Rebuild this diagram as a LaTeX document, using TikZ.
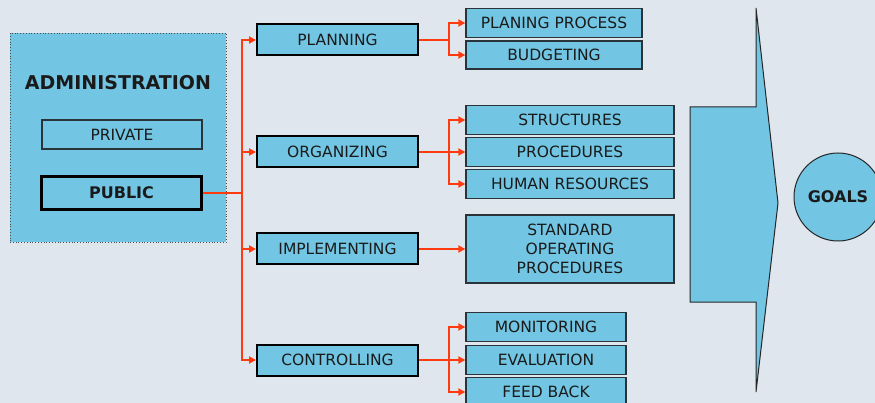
\documentclass[tikz,border=0pt]{standalone}
\usepackage{fontspec}
\setmainfont{DejaVu Sans}
\usetikzlibrary{arrows.meta}
\definecolor{boxblue}{HTML}{72C6E4}
\definecolor{bgc}{HTML}{E0E6ED}
\definecolor{redl}{HTML}{FF3A0F}
\definecolor{txt}{HTML}{1A1A1A}
\definecolor{subedge}{HTML}{2A3338}
\begin{document}
\begin{tikzpicture}[x=1pt,y=-1pt,
  lbl/.style={font=\fontsize{15.5}{19}\selectfont, text=txt, align=center},
  mainbox/.style={lbl, draw=black, line width=2pt, fill=boxblue, inner sep=0pt},
  subbox/.style={lbl, draw=subedge, line width=1.3pt, fill=boxblue, inner sep=0pt},
  conn/.style={draw=redl, line width=1.8pt},
  arr/.style={conn, -{Triangle[length=7pt,width=7pt]}},
]
\fill[bgc] (0,0) rectangle (875,403);
\useasboundingbox (0,0) rectangle (875,403);

% administration block
\node[draw=black!70, dotted, line width=0.8pt, fill=boxblue, minimum width=216pt, minimum height=209pt, inner sep=0pt] (admin) at (118,137.5) {};
\node[font=\fontsize{19}{22}\selectfont\bfseries, text=txt] (admintitle) at (118,83) {ADMINISTRATION};
\node[lbl, draw=subedge, line width=1.2pt, fill=boxblue, minimum width=160pt, minimum height=29pt, inner sep=0pt] (private) at (122,134.5) {PRIVATE};
\node[lbl, font=\fontsize{16}{19}\selectfont\bfseries, draw=black, line width=3pt, fill=boxblue, minimum width=160pt, minimum height=33pt, inner sep=0pt] (public) at (121.5,193) {PUBLIC};

% level 1
\node[mainbox, minimum width=161pt, minimum height=31pt] (planning) at (337.5,40) {PLANNING};
\node[mainbox, minimum width=161pt, minimum height=31pt] (organizing) at (337.5,152) {ORGANIZING};
\node[mainbox, minimum width=161pt, minimum height=31pt] (implementing) at (337.5,249) {IMPLEMENTING};
\node[mainbox, minimum width=161pt, minimum height=31pt] (controlling) at (337.5,360) {CONTROLLING};

% level 2
\node[subbox, minimum width=176pt, minimum height=29pt] (planproc) at (554,23) {PLANING PROCESS};
\node[subbox, minimum width=176pt, minimum height=28pt] (budget) at (554,55) {BUDGETING};
\node[subbox, minimum width=208pt, minimum height=29pt] (struct) at (570,120) {STRUCTURES};
\node[subbox, minimum width=208pt, minimum height=29pt] (proced) at (570,152) {PROCEDURES};
\node[subbox, minimum width=208pt, minimum height=29pt] (human) at (570,184) {HUMAN RESOURCES};
\node[subbox, minimum width=208pt, minimum height=68pt] (sop) at (570,249) {STANDARD\\OPERATING\\PROCEDURES};
\node[subbox, minimum width=160pt, minimum height=29pt] (monit) at (546,327) {MONITORING};
\node[subbox, minimum width=160pt, minimum height=29pt] (evalu) at (546,360) {EVALUATION};
\node[subbox, minimum width=160pt, minimum height=29pt] (feed) at (546,392) {FEED BACK};

% connectors
\coordinate (trunk) at (242,193);
\draw[conn] (public.east) -- (trunk);
\draw[arr] (trunk) |- (planning.west);
\draw[arr] (trunk) |- (organizing.west);
\draw[arr] (trunk) |- (implementing.west);
\draw[arr] (trunk) |- (controlling.west);

\coordinate (pj) at (449,40);
\draw[conn] (planning.east) -- (pj);
\draw[arr] (pj) |- (planproc.west);
\draw[arr] (pj) |- (budget.west);

\coordinate (oj) at (449,152);
\draw[conn] (organizing.east) -- (oj);
\draw[arr] (oj) |- (struct.west);
\draw[arr] (oj) -- (proced.west);
\draw[arr] (oj) |- (human.west);

\draw[arr] (implementing.east) -- (sop.west);

\coordinate (cj) at (449,360);
\draw[conn] (controlling.east) -- (cj);
\draw[arr] (cj) |- (monit.west);
\draw[arr] (cj) -- (evalu.west);
\draw[arr] (cj) |- (feed.west);

% big arrow
\draw[fill=boxblue, draw=black!85, line width=1pt, line join=miter]
  (756,8) -- (778,203) -- (756,392) -- (756,302) -- (690,302) -- (690,107) -- (756,107) -- cycle;

% goals
\node[circle, draw=black!85, line width=1pt, fill=boxblue, minimum size=88pt, inner sep=0pt, font=\fontsize{16}{19}\selectfont\bfseries, text=txt] (goals) at (838,197) {GOALS};
\end{tikzpicture}
\end{document}
